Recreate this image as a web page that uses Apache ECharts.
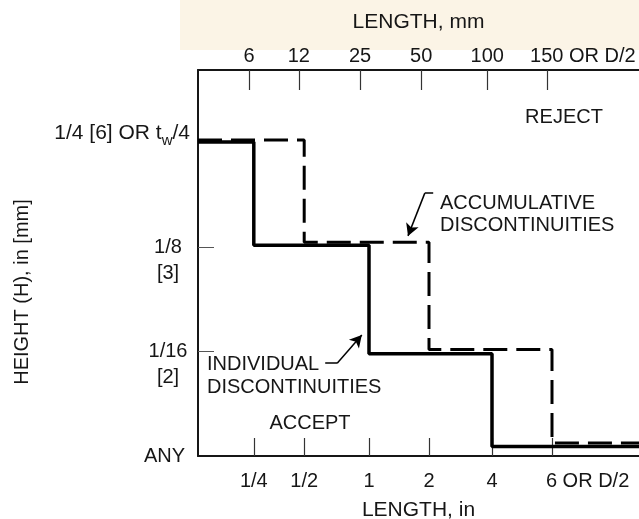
<!DOCTYPE html>
<html>
<head>
<meta charset="utf-8">
<script src="https://cdn.jsdelivr.net/npm/echarts@6/dist/echarts.min.js"></script>
<style>
  html, body { margin: 0; padding: 0; background: #fff; }
  #main { width: 639px; height: 519px; }
</style>
</head>
<body>
<div id="main"></div>
<script>
// length ticks, bottom (in) and top (mm), with their spot along the schematic axis
const inLabels = ['1/4', '1/2', '1', '2', '4', '6 OR D/2']
const inPos = [0.93, 1.77, 2.85, 3.85, 4.9, 5.9]
const mmLabels = ['6', '12', '25', '50', '100', '150 OR D/2']
const mmPos = [0.85, 1.68, 2.7, 3.72, 4.82, 5.82]

// height levels: 0 = ANY, 1 = 1/16 [2], 2 = 1/8 [3], 3 = 1/4 [6] OR tw/4
const levelVals = [0, 1, 2, 3]

// individual discontinuities: steps down at 1/4, 1 and 4 in
const solidBreaks = [0, 2, 4]          // index in inLabels
const solidLevels = [3.01, 2.02, 0.98, 0.09]
// accumulative discontinuities: steps down at 1/2, 2 and 6 in
const dashBreaks = [1, 3, 5]
const dashLevels = [3.03, 2.05, 1.02, 0.125]

const xMax = 7.35
const yMax = 3.7
const font = 'Liberation Sans'
const ink = '#161616'

function stepData(breaks, levels) {
  let d = [[0, levels[0]]]
  breaks.forEach((b, i) => d.push([inPos[b], levels[i + 1]]))
  d.push([xMax, levels[levels.length - 1]])
  return d
}

function tickLabel(labels, pos) {
  return function (v) {
    let i = pos.findIndex(p => Math.abs(p - v) < 1e-6)
    if (i < 0) return ''
    let s = labels[i]
    let k = s.indexOf(' ')
    if (k < 0) return s
    // keep the number on the tick, the rest just trails to the right
    return `{n|${s.slice(0, k)}}{r|${s.slice(k)}}`
  }
}

const tickRich = {
  n: { color: ink, fontSize: 20, fontFamily: font, align: 'left' },
  r: { color: ink, fontSize: 20, fontFamily: font, width: 1, align: 'left' }
}

var myChart = echarts.init(document.getElementById('main'))

myChart.setOption({
  animation: false,
  backgroundColor: '#fff',
  grid: { left: 198, right: 0, top: 70, bottom: 63, outerBoundsMode: 'none' },
  xAxis: [
    {
      type: 'value', position: 'bottom', min: 0, max: xMax,
      name: 'LENGTH, in', nameLocation: 'middle', nameGap: 44,
      nameTextStyle: { color: ink, fontSize: 21, fontFamily: font },
      splitLine: { show: false },
      axisLine: { show: true, lineStyle: { color: ink, width: 2 } },
      axisTick: { show: true, inside: true, length: 18, customValues: inPos, lineStyle: { color: '#333', width: 1.2 } },
      axisLabel: { customValues: inPos, margin: 15, hideOverlap: false, color: ink, fontSize: 20, fontFamily: font,
        formatter: tickLabel(inLabels, inPos), rich: tickRich }
    },
    {
      type: 'value', position: 'top', min: 0, max: xMax,
      name: 'LENGTH, mm', nameLocation: 'middle', nameGap: 37,
      nameTextStyle: { color: ink, fontSize: 21, fontFamily: font },
      splitLine: { show: false },
      axisLine: { show: true, lineStyle: { color: ink, width: 2 } },
      axisTick: { show: true, inside: true, length: 20, customValues: mmPos, lineStyle: { color: '#333', width: 1.2 } },
      axisLabel: { customValues: mmPos, margin: 4, hideOverlap: false, color: ink, fontSize: 20, fontFamily: font,
        formatter: tickLabel(mmLabels, mmPos), rich: tickRich }
    }
  ],
  yAxis: {
    type: 'value', min: 0, max: yMax,
    splitLine: { show: false },
    axisLine: { show: true, lineStyle: { color: ink, width: 2 } },
    axisTick: { show: true, inside: true, length: 16, customValues: [1, 2], lineStyle: { color: '#555', width: 1 } },
    axisLabel: {
      customValues: levelVals, margin: 8, color: ink, fontSize: 20, fontFamily: font,
      formatter: function (v) {
        if (v === 0) return '{any|ANY}'
        if (v === 1) return '{c| }\n{c|1/16}\n{c|[2]}'
        if (v === 2) return '{c| }\n{c|1/8}\n{c|[3]}'
        if (v === 3) return '{a|1/4 [6] OR t}{s|w}{a|/4}\n{e| }'
        return ''
      },
      rich: {
        any: { color: ink, fontSize: 20, fontFamily: font, padding: [0, 5, 0, 0] },
        c: { color: ink, fontSize: 20, fontFamily: font, width: 44, align: 'center', lineHeight: 26 },
        a: { color: ink, fontSize: 21, fontFamily: font, lineHeight: 20, verticalAlign: 'top' },
        s: { color: ink, fontSize: 15, fontFamily: font, lineHeight: 25, verticalAlign: 'bottom' },
        e: { fontSize: 15, lineHeight: 15 }
      }
    }
  },
  graphic: [
    { type: 'rect', silent: true, z: -10, shape: { x: 180, y: 0, width: 459, height: 50 }, style: { fill: '#fbf4e6' } },
    { type: 'text', x: 22, y: 292, rotation: Math.PI / 2,
      style: { text: 'HEIGHT (H), in [mm]', font: `20px "${font}"`, fill: ink, align: 'center', verticalAlign: 'middle' } },
    { type: 'text', x: 564, y: 117,
      style: { text: 'REJECT', font: `20px "${font}"`, fill: ink, align: 'center', verticalAlign: 'middle' } },
    { type: 'text', x: 310, y: 423,
      style: { text: 'ACCEPT', font: `20px "${font}"`, fill: ink, align: 'center', verticalAlign: 'middle' } },
    { type: 'text', x: 440, y: 192,
      style: { text: 'ACCUMULATIVE\nDISCONTINUITIES', font: `20px "${font}"`, lineHeight: 22, fill: ink, verticalAlign: 'top' } },
    { type: 'text', x: 207, y: 353,
      style: { text: 'INDIVIDUAL\nDISCONTINUITIES', font: `20px "${font}"`, lineHeight: 23, fill: ink, verticalAlign: 'top' } }
  ],
  series: [
    {
      name: 'individual', type: 'line', step: 'end', symbol: 'none',
      data: stepData(solidBreaks, solidLevels),
      lineStyle: { color: '#000', width: 3.5 },
      markLine: {
        silent: true, symbol: ['none', 'arrow'], symbolSize: [10, 12],
        label: { show: false },
        lineStyle: { color: '#000', width: 1.5, type: 'solid' },
        data: [
          [{ coord: [2.12, 0.89], symbol: 'none' }, { coord: [2.32, 0.89], symbol: 'none' }],
          [{ coord: [2.32, 0.89] }, { coord: [2.73, 1.16] }]
        ]
      }
    },
    {
      name: 'accumulative', type: 'line', step: 'end', symbol: 'none',
      data: stepData(dashBreaks, dashLevels),
      lineStyle: { color: '#000', width: 3, type: [24, 9] },
      markLine: {
        silent: true, symbol: ['none', 'arrow'], symbolSize: [10, 12],
        label: { show: false },
        lineStyle: { color: '#000', width: 1.5, type: 'solid' },
        data: [
          [{ coord: [3.92, 2.52], symbol: 'none' }, { coord: [3.78, 2.52], symbol: 'none' }],
          [{ coord: [3.78, 2.52] }, { coord: [3.5, 2.11] }]
        ]
      }
    }
  ]
})
</script>
</body>
</html>
